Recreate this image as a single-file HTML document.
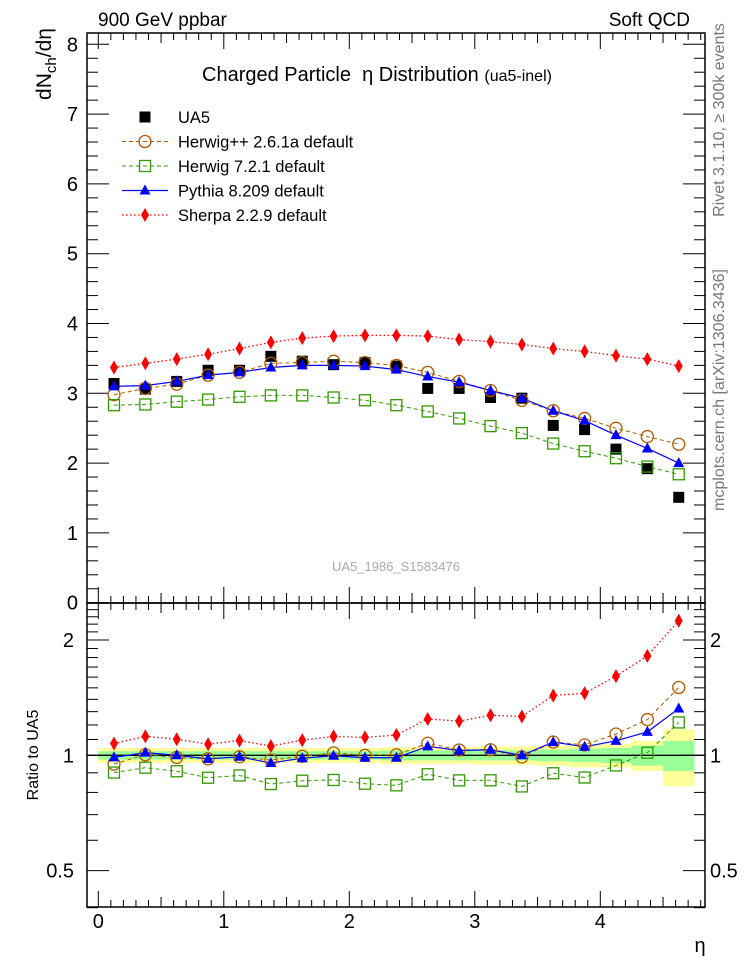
<!DOCTYPE html>
<html><head><meta charset="utf-8">
<style>
body{margin:0;background:#fff;}
svg{display:block;font-family:"Liberation Sans",sans-serif;}
</style></head>
<body>
<svg id="chart" width="746" height="972" viewBox="0 0 746 972" xmlns="http://www.w3.org/2000/svg">
<rect width="746" height="972" fill="#fff"/>
<text x="98" y="26" font-size="19">900 GeV ppbar</text>
<text x="690" y="26" font-size="19" text-anchor="end">Soft QCD</text>
<text x="202" y="81" font-size="20" xml:space="preserve">Charged Particle  η Distribution <tspan font-size="16">(ua5-inel)</tspan></text>
<text transform="translate(724,120) rotate(-90)" font-size="16" fill="#777" text-anchor="middle">Rivet 3.1.10, ≥ 300k events</text>
<text transform="translate(724,390) rotate(-90)" font-size="16" fill="#777" text-anchor="middle">mcplots.cern.ch [arXiv:1306.3436]</text>
<text x="396" y="571" font-size="13" fill="#aaa" text-anchor="middle">UA5_1986_S1583476</text>
<text transform="translate(51,64) rotate(-90)" font-size="21" text-anchor="middle">dN<tspan font-size="15" dy="5">ch</tspan><tspan dy="-5">/dη</tspan></text>
<text transform="translate(38,755) rotate(-90)" font-size="16" text-anchor="middle">Ratio to UA5</text>
<text x="700" y="952" font-size="20" text-anchor="middle">η</text>
<g id="bands"></g><g id="grid"></g><g id="series"></g><g id="legend"></g>
</svg>
<script>
const etaCenters=[0.125,0.375,0.625,0.875,1.125,1.375,1.625,1.875,2.125,2.375,2.625,2.875,3.125,3.375,3.625,3.875,4.125,4.375,4.625];
const ua5=[3.14,3.06,3.17,3.33,3.33,3.53,3.46,3.41,3.44,3.39,3.07,3.07,2.94,2.93,2.54,2.48,2.20,1.92,1.51];
const herwigpp=[2.98,3.07,3.13,3.26,3.30,3.43,3.44,3.46,3.44,3.40,3.30,3.17,3.04,2.90,2.75,2.64,2.50,2.38,2.27];
const herwig7=[2.83,2.84,2.88,2.91,2.95,2.97,2.97,2.94,2.90,2.83,2.74,2.64,2.53,2.43,2.28,2.17,2.07,1.95,1.84];
const pythia=[3.10,3.11,3.17,3.26,3.30,3.37,3.40,3.40,3.39,3.34,3.24,3.16,3.04,2.93,2.75,2.61,2.40,2.21,2.00];
const sherpa=[3.37,3.43,3.49,3.56,3.64,3.73,3.79,3.82,3.83,3.83,3.82,3.77,3.74,3.70,3.64,3.60,3.54,3.49,3.39];
const bandYellow=[0.045,0.045,0.045,0.045,0.045,0.045,0.045,0.045,0.045,0.05,0.05,0.05,0.055,0.055,0.06,0.07,0.07,0.09,0.17];
const bandGreen=[0.025,0.025,0.025,0.025,0.025,0.025,0.025,0.025,0.025,0.03,0.03,0.03,0.03,0.03,0.035,0.04,0.045,0.06,0.09];
const mainTicks=[0,1,2,3,4,5,6,7,8];
const xTicks=[0,1,2,3,4];
const ratioTicks=[0.5,1,2];

const NS='http://www.w3.org/2000/svg';
const L=87,R=705,T=33,MB=603,RB=907;
const sx=v=>98.3+v*125.5;
const sy=v=>602.7-v*69.8;
const ry=r=>755.3-Math.log2(r)*115.3;
function mk(tag,attrs,parent){const e=document.createElementNS(NS,tag);for(const k in attrs)e.setAttribute(k,attrs[k]);parent.appendChild(e);return e;}
const grid=document.getElementById('grid'),bands=document.getElementById('bands'),ser=document.getElementById('series'),leg=document.getElementById('legend');

etaCenters.forEach((c,i)=>{
  const x0=sx(c-0.125),x1=sx(c+0.125);
  const y=mk('rect',{x:x0,y:ry(1+bandYellow[i]),width:x1-x0,height:ry(1-bandYellow[i])-ry(1+bandYellow[i]),fill:'#ffff99'},bands);
  
  
  const g=mk('rect',{x:x0,y:ry(1+bandGreen[i]),width:x1-x0,height:ry(1-bandGreen[i])-ry(1+bandGreen[i]),fill:'#99ff99'},bands);
  
  
});

const f1=mk('rect',{x:L,y:T,width:R-L,height:MB-T,fill:'none',stroke:'#000','stroke-width':1.5},grid);


const f2=mk('rect',{x:L,y:MB,width:R-L,height:RB-MB,fill:'none',stroke:'#000','stroke-width':1.5},grid);


const one=mk('line',{x1:L,x2:R,y1:ry(1),y2:ry(1),stroke:'#000','stroke-width':1.3},grid);



for(let v=0;v<=4.8;v+=0.1){
  const vv=Math.round(v*10)/10; if(sx(vv)>R) break;
  const major=Math.abs(vv-Math.round(vv))<1e-6, mid=Math.abs(vv*2-Math.round(vv*2))<1e-6;
  const len=major?16:(mid?10:7);
  [T,MB].forEach(yb=>{mk('line',{x1:sx(vv),x2:sx(vv),y1:yb,y2:yb+len,stroke:'#000'},grid);});
  [MB,RB].forEach(yb=>{mk('line',{x1:sx(vv),x2:sx(vv),y1:yb,y2:yb-len,stroke:'#000'},grid);});
}
xTicks.forEach(v=>{const t=mk('text',{x:sx(v),y:928,'font-size':20,'text-anchor':'middle'},grid);t.textContent=v;
  
  });
for(let v=0;v<=8.1;v+=0.2){
  const vv=Math.round(v*10)/10; const major=Math.abs(vv-Math.round(vv))<1e-6; const len=major?22:11;
  mk('line',{x1:L,x2:L+len,y1:sy(vv),y2:sy(vv),stroke:'#000'},grid);
  mk('line',{x1:R,x2:R-len,y1:sy(vv),y2:sy(vv),stroke:'#000'},grid);
}
mainTicks.forEach(v=>{const t=mk('text',{x:78,y:sy(v)+7,'font-size':20,'text-anchor':'end'},grid);t.textContent=v;
  
  });
[0.4,0.5,0.6,0.7,0.8,0.9,1,1.1,1.2,1.3,1.4,1.5,1.6,1.7,1.8,1.9,2,2.1,2.2,2.3,2.4,2.5].forEach(v=>{
  const major=ratioTicks.includes(v); const len=major?22:11;
  mk('line',{x1:L,x2:L+len,y1:ry(v),y2:ry(v),stroke:'#000'},grid);
  mk('line',{x1:R,x2:R-len,y1:ry(v),y2:ry(v),stroke:'#000'},grid);
});
ratioTicks.forEach(v=>{
  const t=mk('text',{x:74,y:ry(v)+7,'font-size':20,'text-anchor':'end'},grid);t.textContent=v;
  
  
  const t2=mk('text',{x:710,y:ry(v)+7,'font-size':20},grid);t2.textContent=v;
  
  
});

function marker(type,x,y,color,parent){
  if(type==='square') return mk('rect',{x:x-5.5,y:y-5.5,width:11,height:11,fill:'#000'},parent);
  if(type==='circle') return mk('circle',{cx:x,cy:y,r:6,fill:'none',stroke:color,'stroke-width':1.3},parent);
  if(type==='osquare') return mk('rect',{x:x-5.5,y:y-5.5,width:11,height:11,fill:'none',stroke:color,'stroke-width':1.3},parent);
  if(type==='tri') return mk('path',{d:`M${x} ${y-6}L${x+5.5} ${y+4}L${x-5.5} ${y+4}Z`,fill:color},parent);
  if(type==='diamond') return mk('path',{d:`M${x} ${y-7}L${x+4} ${y}L${x} ${y+7}L${x-4} ${y}Z`,fill:color},parent);
}
const mcs=[
  {name:'herwigpp',vals:herwigpp,color:'#b35900',dash:'4,3',m:'circle',w:1},
  {name:'herwig7',vals:herwig7,color:'#339900',dash:'4,3',m:'osquare',w:1},
  {name:'pythia',vals:pythia,color:'#0000ff',dash:'',m:'tri',w:1.2},
  {name:'sherpa',vals:sherpa,color:'#ff0000',dash:'1.5,2.5',m:'diamond',w:1.3}
];
mcs.forEach(s=>{
  const pts=etaCenters.map((c,i)=>sx(c)+','+sy(s.vals[i])).join(' ');
  const p=mk('polyline',{points:pts,fill:'none',stroke:s.color,'stroke-width':s.w,'stroke-dasharray':s.dash},ser);
  
  
  const rp=etaCenters.map((c,i)=>sx(c)+','+ry(s.vals[i]/ua5[i])).join(' ');
  const q=mk('polyline',{points:rp,fill:'none',stroke:s.color,'stroke-width':s.w,'stroke-dasharray':s.dash},ser);
  
  
});
etaCenters.forEach((c,i)=>{
  const m=marker('square',sx(c),sy(ua5[i]),'#000',ser);
  
  
});
mcs.forEach(s=>{
  etaCenters.forEach((c,i)=>{
    const a=marker(s.m,sx(c),sy(s.vals[i]),s.color,ser);
    
    
    const b=marker(s.m,sx(c),ry(s.vals[i]/ua5[i]),s.color,ser);
    
    
  });
});
const labels=['UA5','Herwig++ 2.6.1a default','Herwig 7.2.1 default','Pythia 8.209 default','Sherpa 2.2.9 default'];
labels.forEach((lab,i)=>{
  const y=117+i*24.5;
  const g=mk('g',{},leg);
  
  
  if(i===0){marker('square',145,y,'#000',g);}
  else{const s=mcs[i-1];
    mk('line',{x1:122,x2:168,y1:y,y2:y,stroke:s.color,'stroke-width':s.w,'stroke-dasharray':s.dash},g);
    marker(s.m,145,y,s.color,g);}
  const t=mk('text',{x:178,y:y+6,'font-size':16.5},g);t.textContent=lab;
});
</script>
</body></html>
